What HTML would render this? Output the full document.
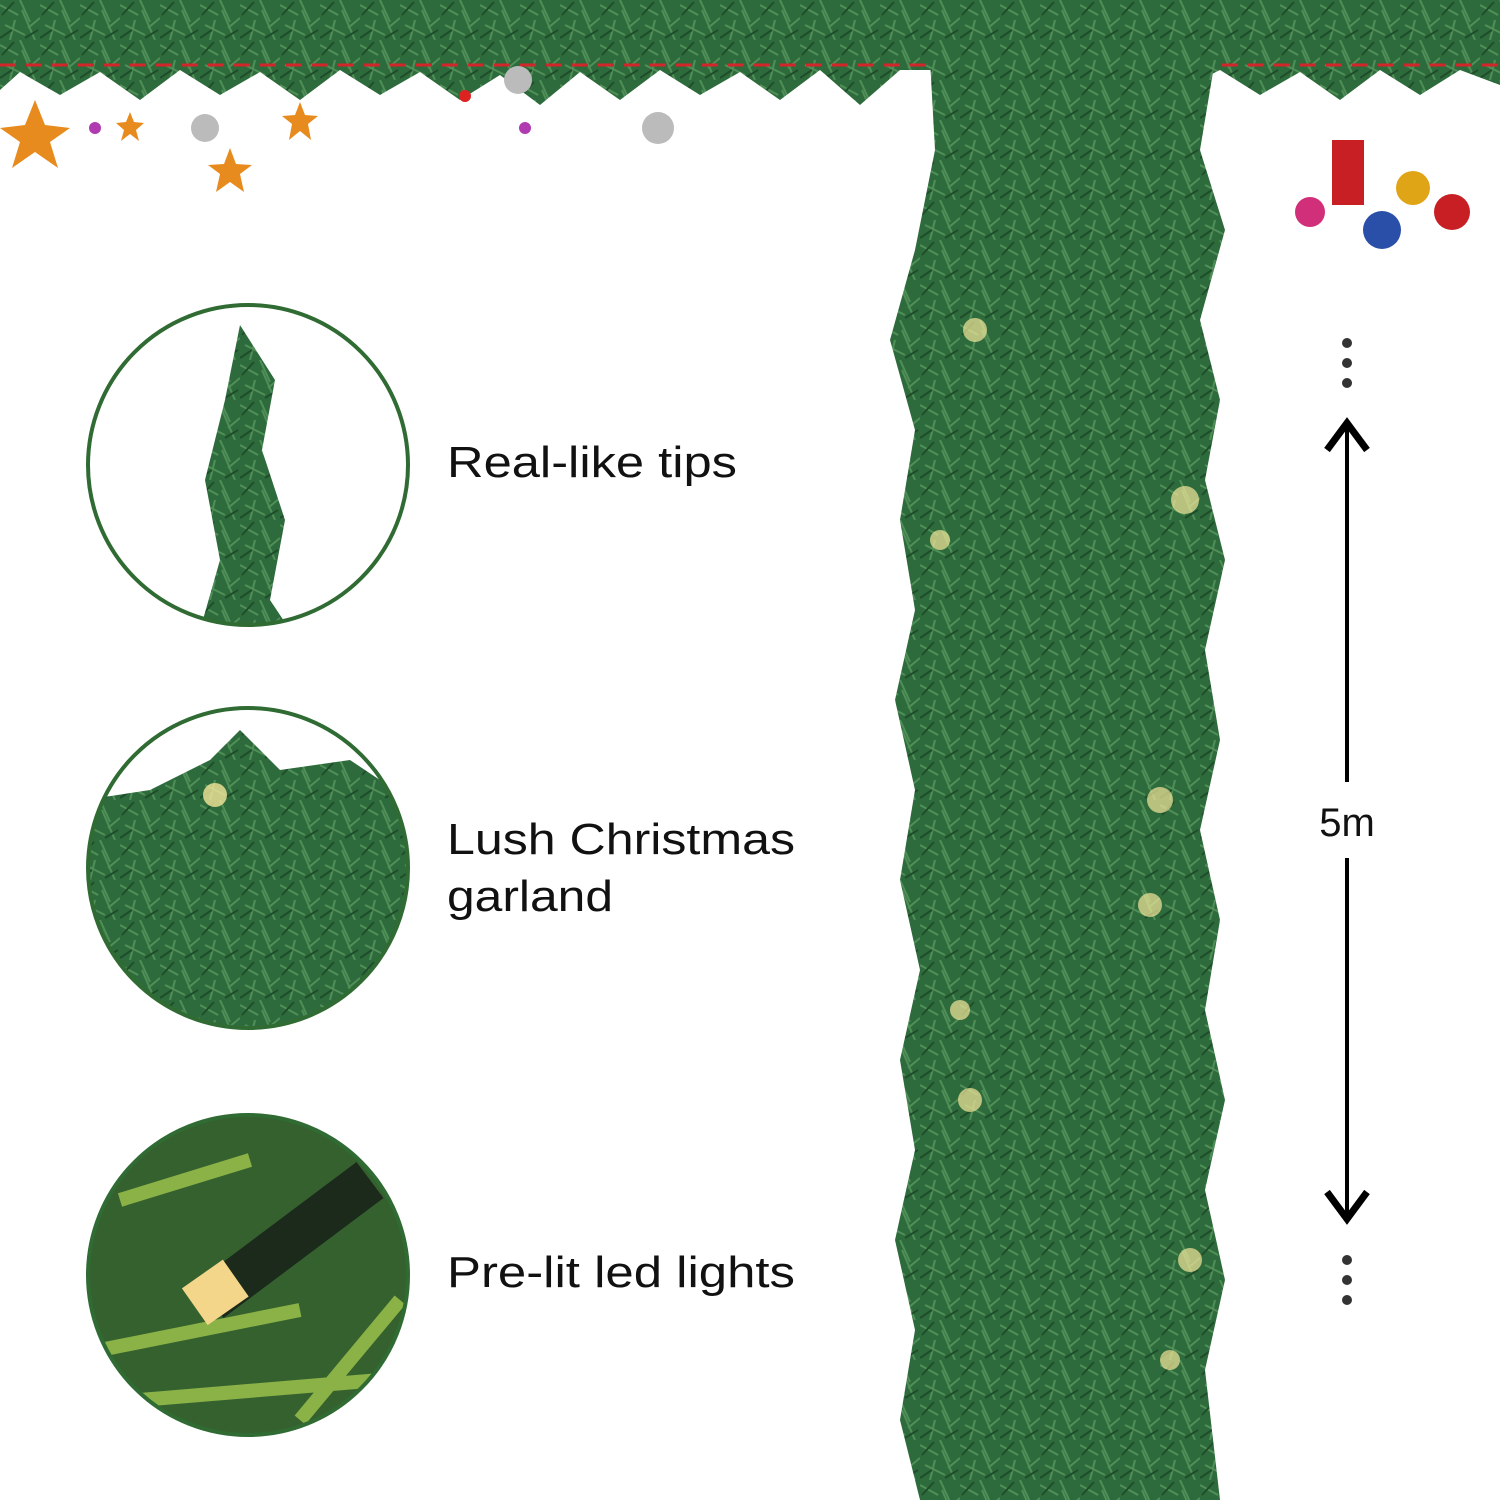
<!DOCTYPE html>
<html><head><meta charset="utf-8"><style>
html,body{margin:0;padding:0;background:#fff;}
svg{display:block}
text{font-family:"Liberation Sans",sans-serif;}
</style></head><body>
<svg width="1500" height="1500" viewBox="0 0 1500 1500" xmlns="http://www.w3.org/2000/svg">
<defs>
<pattern id="needles" width="40" height="40" patternUnits="userSpaceOnUse">
<rect width="40" height="40" fill="#2e6b3c"/>
<path d="M0 5 L18 15 M20 0 L30 22 M5 25 L25 35 M28 28 L40 18 M10 40 L15 20 M35 40 L22 10" stroke="#4f8f57" stroke-width="2"/>
<path d="M2 15 L14 2 M25 38 L38 30 M12 30 L0 38" stroke="#1f4d2a" stroke-width="2"/>
</pattern>
<clipPath id="c1"><circle cx="248" cy="465" r="160"/></clipPath>
<clipPath id="c2"><circle cx="248" cy="868" r="160"/></clipPath>
<clipPath id="c3"><circle cx="248" cy="1275" r="160"/></clipPath>
</defs>
<rect width="1500" height="1500" fill="#fff"/>
<path d="M0 0 H1500 V85 L1460 70 L1420 95 L1380 70 L1340 100 L1300 72 L1260 95 L1220 70 L1180 90 L1140 70 L900 70 L860 105 L820 70 L780 100 L740 72 L700 95 L660 70 L620 100 L580 72 L540 105 L500 75 L460 100 L420 72 L380 95 L340 70 L300 100 L260 72 L220 95 L180 70 L140 100 L100 72 L60 95 L20 72 L0 90 Z" fill="url(#needles)"/>
<line x1="0" y1="65" x2="1500" y2="65" stroke="#d3262a" stroke-width="3" stroke-dasharray="16 10"/>
<g fill="#e88b1e">
<polygon points="35,100 45,125 70,128 50,142 58,168 35,152 12,168 20,142 0,128 25,125"/>
<polygon points="230,148 236,164 252,165 240,174 244,192 230,182 216,192 220,174 208,165 224,164"/>
<polygon points="300,102 305,115 318,116 308,124 311,140 300,131 289,140 292,124 282,116 295,115"/>
<polygon points="130,112 134,122 144,123 136,130 139,141 130,134 121,141 124,130 116,123 126,122"/>
</g>
<circle cx="205" cy="128" r="14" fill="#bbb"/><circle cx="518" cy="80" r="14" fill="#bbb"/><circle cx="658" cy="128" r="16" fill="#bbb"/>
<circle cx="95" cy="128" r="6" fill="#b03bb0"/><circle cx="465" cy="96" r="6" fill="#d22"/><circle cx="525" cy="128" r="6" fill="#b03bb0"/>
<circle cx="1310" cy="212" r="15" fill="#d12f7a"/><circle cx="1382" cy="230" r="19" fill="#2a4fa8"/><circle cx="1413" cy="188" r="17" fill="#e0a516"/><circle cx="1452" cy="212" r="18" fill="#c81f25"/>
<rect x="1332" y="140" width="32" height="65" fill="#c81f25"/>
<path d="M930 60 L1215 60 L1200 150 L1225 230 L1200 320 L1220 400 L1205 480 L1225 560 L1205 650 L1220 740 L1200 830 L1220 920 L1205 1010 L1225 1100 L1205 1190 L1225 1280 L1205 1370 L1220 1500 L920 1500 L900 1420 L915 1330 L895 1240 L915 1150 L900 1060 L920 970 L900 880 L915 790 L895 700 L915 610 L900 520 L915 430 L890 340 L915 250 L935 150 Z" fill="url(#needles)"/>
<g fill="#f4e79a" opacity="0.7">
<circle cx="975" cy="330" r="12"/><circle cx="1185" cy="500" r="14"/><circle cx="940" cy="540" r="10"/><circle cx="1160" cy="800" r="13"/><circle cx="1150" cy="905" r="12"/><circle cx="970" cy="1100" r="12"/><circle cx="1190" cy="1260" r="12"/><circle cx="1170" cy="1360" r="10"/><circle cx="960" cy="1010" r="10"/>
</g>
<g clip-path="url(#c1)"><rect x="80" y="300" width="340" height="340" fill="#fff"/>
<path d="M240 325 L275 380 L262 450 L285 520 L270 600 L290 630 L200 630 L220 560 L205 480 L225 400 Z" fill="url(#needles)"/></g>
<circle cx="248" cy="465" r="160" fill="none" stroke="#2f6b32" stroke-width="4"/>
<g clip-path="url(#c2)"><rect x="80" y="700" width="340" height="340" fill="#fff"/>
<path d="M85 800 L150 790 L210 760 L240 730 L280 770 L350 760 L410 800 L410 1040 L85 1040 Z" fill="url(#needles)"/>
<circle cx="215" cy="795" r="12" fill="#f4e79a" opacity="0.8"/></g>
<circle cx="248" cy="868" r="160" fill="none" stroke="#2f6b32" stroke-width="4"/>
<g clip-path="url(#c3)"><rect x="80" y="1110" width="340" height="340" fill="#35612f"/>
<path d="M100 1350 L300 1310 M140 1400 L380 1380 M120 1200 L250 1160 M300 1420 L400 1300" stroke="#8ab246" stroke-width="14"/>
<path d="M210 1300 L370 1180" stroke="#1c2a1c" stroke-width="45"/>
<rect x="190" y="1270" width="50" height="45" fill="#f3d68a" transform="rotate(-35 215 1292)"/></g>
<circle cx="248" cy="1275" r="160" fill="none" stroke="#2f6b32" stroke-width="4"/>
<text x="447" y="477" font-size="44" fill="#111" textLength="290" lengthAdjust="spacingAndGlyphs">Real-like tips</text>
<text x="447" y="854" font-size="44" fill="#111" textLength="348" lengthAdjust="spacingAndGlyphs">Lush Christmas</text>
<text x="447" y="911" font-size="44" fill="#111" textLength="166" lengthAdjust="spacingAndGlyphs">garland</text>
<text x="447" y="1287" font-size="44" fill="#111" textLength="348" lengthAdjust="spacingAndGlyphs">Pre-lit led lights</text>
<g fill="#333"><circle cx="1347" cy="343" r="5"/><circle cx="1347" cy="363" r="5"/><circle cx="1347" cy="383" r="5"/>
<circle cx="1347" cy="1260" r="5"/><circle cx="1347" cy="1280" r="5"/><circle cx="1347" cy="1300" r="5"/></g>
<line x1="1347" y1="422" x2="1347" y2="782" stroke="#000" stroke-width="4"/>
<line x1="1347" y1="858" x2="1347" y2="1218" stroke="#000" stroke-width="4"/>
<polyline points="1327,450 1347,423 1367,450" fill="none" stroke="#000" stroke-width="7"/>
<polyline points="1327,1192 1347,1219 1367,1192" fill="none" stroke="#000" stroke-width="7"/>
<text x="1347" y="836" font-size="40" fill="#111" text-anchor="middle">5m</text>
</svg>
</body></html>
